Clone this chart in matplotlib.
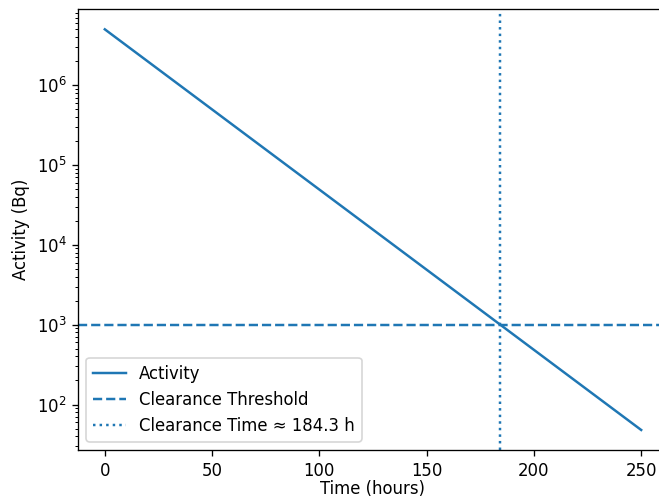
import matplotlib
matplotlib.use("Agg")
import matplotlib.pyplot as plt

# Decay curve samples (hours, Bq)
time_h = [0, 50, 100, 150, 200, 250]
activity_bq = [5.0e6, 4.96e5, 4.92e4, 4.88e3, 4.84e2, 48.0]

# Regulatory clearance level and the time the curve crosses it
threshold_bq = 1.0e3
clearance_time_h = 184.3

DPI = 119
fig = plt.figure(figsize=(659 / DPI, 499 / DPI), dpi=DPI)
ax = fig.add_axes([78 / 659, 49 / 499, 590 / 659, 440.7 / 499])

ax.plot(time_h, activity_bq, color="C0", label="Activity")
ax.axhline(threshold_bq, color="C0", linestyle="--", label="Clearance Threshold")
ax.axvline(clearance_time_h, color="C0", linestyle=":",
           label=f"Clearance Time \u2248 {clearance_time_h:.1f} h")

ax.set_yscale("log")
ax.set_xlabel("Time (hours)", labelpad=0.5)
ax.set_ylabel("Activity (Bq)")
ax.legend(loc="lower left")

fig.savefig("out.png", dpi=DPI)
